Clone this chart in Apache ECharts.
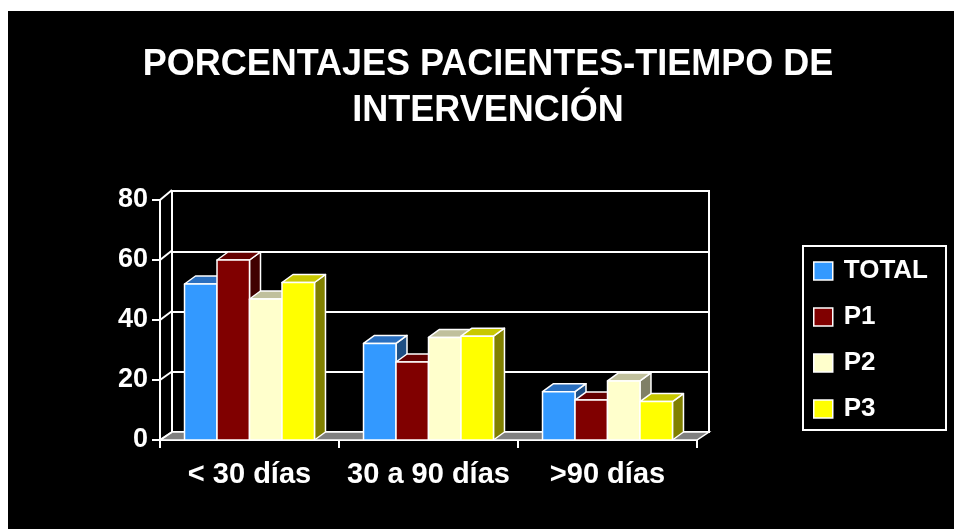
<!DOCTYPE html>
<html>
<head>
<meta charset="utf-8">
<script src="https://cdn.jsdelivr.net/npm/echarts@6/dist/echarts.min.js"></script>
<style>
  html, body { margin: 0; padding: 0; background: #fff; }
  #chart { width: 954px; height: 529px; }
</style>
</head>
<body>
<div id="chart"></div>
<script>
// data
const categories = ['< 30 días', '30 a 90 días', '>90 días'];
const seriesNames = ['TOTAL', 'P1', 'P2', 'P3'];
const total = [52, 32.2, 16.1];
const p1 = [60, 26, 13.3];
const p2 = [47, 34.2, 19.7];
const p3 = [52.5, 34.6, 12.8];
const yTicks = [0, 20, 40, 60, 80];

// face colours: front, top, side
const faces = [
  ['#3399ff', '#2a6fbf', '#1e4f84'],
  ['#800000', '#640000', '#400000'],
  ['#ffffcc', '#c0c09c', '#808066'],
  ['#ffff00', '#c8c800', '#808000']
];
const DX = 11, DY = 8;       // bar depth
const WX = 12, WY = 8;       // wall depth
const GROUP = 0.726;          // part of the band the 4 bars use
const FONT = '"Liberation Sans", Arial, sans-serif';

const chart = echarts.init(document.getElementById('chart'));

function barRenderer(idx) {
  return function (params, api) {
    const cat = api.value(0);
    const base = api.coord([cat, 0]);
    const top = api.coord([cat, api.value(1)]);
    const band = api.size([1, 0])[0];
    const bw = band * GROUP / 4;
    const x0 = base[0] - band * GROUP / 2 + idx * bw;
    const x1 = x0 + bw;
    const ty = top[1], by = base[1];
    const c = faces[idx];
    const stroke = { stroke: '#fff', lineWidth: 1.5, lineJoin: 'round' };
    return {
      type: 'group',
      children: [
        { type: 'polygon', shape: { points: [[x1, ty], [x1 + DX, ty - DY], [x1 + DX, by - DY], [x1, by]] },
          style: Object.assign({ fill: c[2] }, stroke) },
        { type: 'polygon', shape: { points: [[x0, ty], [x1, ty], [x1 + DX, ty - DY], [x0 + DX, ty - DY]] },
          style: Object.assign({ fill: c[1] }, stroke) },
        { type: 'rect', shape: { x: x0, y: ty, width: bw, height: by - ty },
          style: Object.assign({ fill: c[0] }, stroke) }
      ]
    };
  };
}

const values = [total, p1, p2, p3];
const barSeries = seriesNames.map((name, i) => ({
  name: name,
  type: 'custom',
  xAxisIndex: 0,
  yAxisIndex: 0,
  itemStyle: { color: faces[i][0] },
  renderItem: barRenderer(i),
  data: values[i].map((v, k) => [k, v]),
  z: 5
}));

// floor strip
const floorSeries = {
  type: 'custom',
  xAxisIndex: 0,
  yAxisIndex: 0,
  silent: true,
  z: 1,
  renderItem: function (params, api) {
    const cs = params.coordSys;
    const y = api.coord([0, 0])[1];
    return {
      type: 'polygon',
      shape: { points: [[cs.x, y], [cs.x + cs.width, y], [cs.x + cs.width + WX, y - WY], [cs.x + WX, y - WY]] },
      style: { fill: '#808080', stroke: '#fff', lineWidth: 1.5 }
    };
  },
  data: [[0, 0]]
};

// side wall grid lines
const sideSeries = {
  type: 'custom',
  xAxisIndex: 0,
  yAxisIndex: 0,
  silent: true,
  z: 1,
  renderItem: function (params, api) {
    const cs = params.coordSys;
    const y = api.coord([0, api.value(1)])[1];
    return {
      type: 'line',
      shape: { x1: cs.x, y1: y, x2: cs.x + WX, y2: y - WY - (api.value(1) / 80) * 2 },
      style: { stroke: '#fff', lineWidth: 2 }
    };
  },
  data: yTicks.map(v => [0, v])
};

chart.setOption({
  backgroundColor: '#000',
  animation: false,
  textStyle: { fontFamily: FONT },
  title: {
    text: 'PORCENTAJES PACIENTES-TIEMPO DE\nINTERVENCIÓN',
    left: 483,
    top: 37,
    textAlign: 'center',
    textStyle: { color: '#fff', fontSize: 36, fontWeight: 'bold', lineHeight: 46, fontFamily: FONT }
  },
  graphic: [
    { type: 'rect', shape: { x: 0, y: 0, width: 954, height: 11 }, style: { fill: '#fff' }, z: 100 },
    { type: 'rect', shape: { x: 0, y: 0, width: 8, height: 529 }, style: { fill: '#fff' }, z: 100 }
  ],
  legend: {
    data: seriesNames,
    orient: 'vertical',
    left: 803,
    top: 246,
    icon: 'rect',
    itemWidth: 19,
    itemHeight: 18,
    itemGap: 20,
    padding: [12, 18, 8, 10],
    borderColor: '#fff',
    borderWidth: 2,
    itemStyle: { borderColor: '#fff', borderWidth: 1.5 },
    textStyle: { color: '#fff', fontSize: 26, fontWeight: 'bold', lineHeight: 26, fontFamily: FONT, padding: [0, 0, 0, 6] }
  },
  grid: [
    { left: 160, top: 200, width: 537, height: 240 },
    { left: 172, top: 191, width: 537, height: 241, show: true, borderColor: '#fff', borderWidth: 2 }
  ],
  xAxis: [
    {
      type: 'category',
      gridIndex: 0,
      data: categories,
      axisLine: { show: true, lineStyle: { color: '#fff', width: 2 } },
      axisTick: { show: true, interval: 0, length: 8, lineStyle: { color: '#fff', width: 2 } },
      axisLabel: { interval: 0, color: '#fff', fontSize: 29, fontWeight: 'bold', margin: 20, fontFamily: FONT }
    },
    { type: 'value', gridIndex: 1, show: false, min: 0, max: 1 }
  ],
  yAxis: [
    {
      type: 'value',
      gridIndex: 0,
      min: 0,
      max: 80,
      interval: 20,
      axisLine: { show: true, lineStyle: { color: '#fff', width: 2 } },
      axisTick: { show: true, length: 8, lineStyle: { color: '#fff', width: 2 } },
      axisLabel: { color: '#fff', fontSize: 27, fontWeight: 'bold', margin: 12, fontFamily: FONT },
      splitLine: { show: false }
    },
    {
      type: 'value',
      gridIndex: 1,
      min: 0,
      max: 80,
      interval: 20,
      axisLine: { show: false },
      axisTick: { show: false },
      axisLabel: { show: false },
      splitLine: { show: true, lineStyle: { color: '#fff', width: 2 } }
    }
  ],
  series: [floorSeries, sideSeries].concat(barSeries)
});
</script>
</body>
</html>
